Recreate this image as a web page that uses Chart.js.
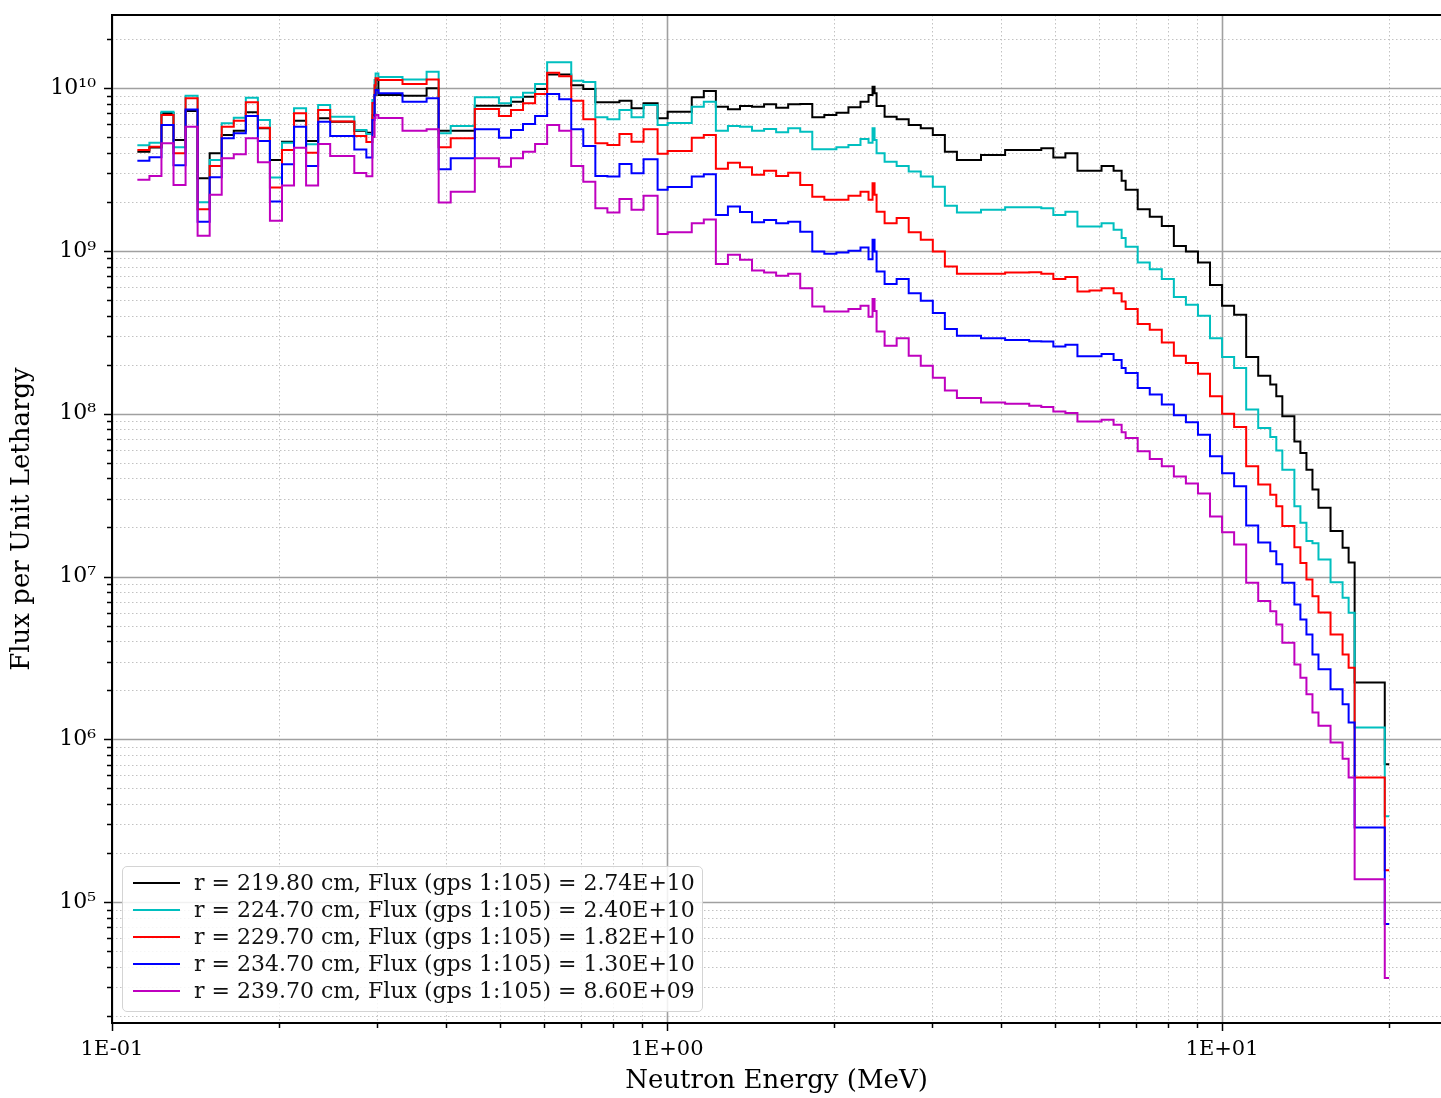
<!DOCTYPE html>
<html>
<head>
<meta charset="utf-8">
<script src="https://cdn.jsdelivr.net/npm/chart.js@4.4.1/dist/chart.umd.min.js"></script>
<style>
html,body{margin:0;padding:0;background:#fff;}
#wrap{position:relative;width:1441px;height:1098px;}
#legend{position:absolute;left:122px;top:866px;width:581px;height:146px;box-sizing:border-box;
  border:1.5px solid #d4d4d4;border-radius:5px;background:rgba(255,255,255,0.85);padding-top:2px;
  font-family:"DejaVu Serif",serif;font-size:22px;color:#111;}
.item{height:27px;display:flex;align-items:center;white-space:nowrap;}
.sw{width:47px;height:0;border-top:2px solid;margin-left:10px;margin-right:14px;}
</style>
</head>
<body>
<div id="wrap"><canvas id="c" width="1441" height="1098"></canvas><div id="legend"></div></div>
<script>
const FONT = '"DejaVu Serif", serif';

// group edges in MeV (groups 105..1, plus the 19.64-20 MeV tail)
const edges = [0.11109,0.11679,0.12277,0.12907,0.13569,0.14264,0.14996,0.15764,0.16573,0.17422,
  0.18316,0.19255,0.20242,0.21280,0.22371,0.23518,0.24724,0.27324,0.28725,0.29452,
  0.29721,0.29849,0.30197,0.33373,0.36883,0.38774,0.40762,0.45049,0.47359,0.49787,
  0.52340,0.55023,0.57844,0.60810,0.63928,0.67206,0.70651,0.74274,0.78082,0.82085,
  0.86294,0.90718,0.96164,1.0026,1.1080,1.1648,1.2246,1.2874,1.3534,1.4227,
  1.4957,1.5724,1.6530,1.7377,1.8268,1.9205,2.0190,2.1225,2.2313,2.3069,
  2.3457,2.3653,2.3852,2.4660,2.5924,2.7253,2.8651,3.0119,3.1664,3.3287,
  3.6788,4.0657,4.4933,4.7237,4.9659,5.2205,5.4881,5.7695,6.0653,6.3763,
  6.5924,6.7032,7.0469,7.4082,7.7880,8.1873,8.6071,9.0484,9.5123,10.000,
  10.513,11.052,11.618,12.214,12.523,12.840,13.499,13.840,14.191,14.550,
  14.918,15.683,16.487,16.905,17.332,19.640,20.000];

// flux per unit lethargy, one value per bin
const fluxR219 = [4.06e9,4.32e9,7.03e9,4.80e9,7.23e9,2.79e9,3.98e9,5.15e9,5.47e9,7.09e9,
  5.66e9,3.62e9,4.68e9,6.30e9,4.73e9,6.52e9,6.21e9,5.47e9,5.32e9,6.83e9,
  9.06e9,1.12e10,9.06e9,8.97e9,9.96e9,5.47e9,5.47e9,7.79e9,7.79e9,7.79e9,
  8.24e9,8.84e9,9.86e9,1.21e10,1.21e10,1.04e10,9.86e9,8.17e9,8.17e9,8.36e9,
  7.51e9,8.06e9,6.52e9,7.15e9,8.77e9,9.59e9,7.68e9,7.40e9,7.76e9,7.68e9,
  7.94e9,7.57e9,7.94e9,7.98e9,6.61e9,6.83e9,7.05e9,7.61e9,8.24e9,9.06e9,
  1.02e10,9.28e9,7.76e9,6.67e9,6.43e9,5.93e9,5.66e9,5.15e9,4.06e9,3.62e9,
  3.88e9,4.17e9,4.17e9,4.27e9,3.74e9,3.98e9,3.11e9,3.11e9,3.32e9,3.11e9,
  2.70e9,2.37e9,1.80e9,1.62e9,1.42e9,1.07e9,9.90e8,8.48e8,6.18e8,4.60e8,
  4.05e8,2.23e8,1.71e8,1.51e8,1.28e8,9.63e7,6.76e7,5.74e7,4.53e7,3.42e7,
  2.64e7,1.90e7,1.50e7,1.22e7,2.23e6,7.03e5];
const fluxR224 = [4.45e9,4.62e9,7.15e9,4.33e9,8.97e9,1.99e9,3.62e9,6.07e9,6.58e9,8.72e9,
  6.36e9,2.82e9,4.62e9,7.51e9,4.52e9,7.87e9,6.67e9,5.53e9,5.22e9,8.44e9,
  1.12e10,1.23e10,1.17e10,1.13e10,1.26e10,5.27e9,5.85e9,8.77e9,8.77e9,8.06e9,
  8.77e9,9.36e9,1.06e10,1.44e10,1.44e10,1.11e10,1.09e10,6.61e9,6.43e9,7.33e9,
  6.61e9,7.87e9,5.93e9,6.10e9,7.68e9,8.24e9,5.47e9,5.85e9,5.79e9,5.47e9,
  5.60e9,5.35e9,5.66e9,5.39e9,4.21e9,4.21e9,4.33e9,4.47e9,4.87e9,4.62e9,
  5.66e9,4.80e9,3.98e9,3.53e9,3.32e9,3.07e9,2.86e9,2.48e9,1.89e9,1.72e9,
  1.79e9,1.85e9,1.85e9,1.83e9,1.66e9,1.74e9,1.41e9,1.41e9,1.48e9,1.35e9,
  1.20e9,1.06e9,8.48e8,7.72e8,6.71e8,5.20e8,4.66e8,3.99e8,2.91e8,2.23e8,
  1.91e8,1.06e8,8.17e7,7.19e7,5.95e7,4.53e7,2.70e7,2.14e7,1.65e7,1.60e7,
  1.27e7,9.23e6,7.40e6,5.99e6,1.18e6,3.37e5];
const fluxR229 = [4.17e9,4.36e9,6.83e9,3.98e9,8.65e9,1.80e9,3.32e9,5.79e9,6.30e9,8.17e9,
  5.71e9,2.45e9,4.17e9,7.00e9,4.01e9,7.33e9,6.23e9,5.08e9,4.66e9,8.09e9,
  1.04e10,1.15e10,1.12e10,1.06e10,1.13e10,4.33e9,4.91e9,7.43e9,7.43e9,6.73e9,
  7.33e9,8.06e9,9.19e9,1.24e10,1.18e10,8.36e9,6.43e9,4.58e9,4.47e9,5.22e9,
  4.68e9,5.58e9,3.95e9,4.11e9,4.96e9,5.15e9,3.19e9,3.48e9,3.26e9,2.93e9,
  3.10e9,2.88e9,3.02e9,2.54e9,2.15e9,2.06e9,2.06e9,2.18e9,2.31e9,2.06e9,
  2.60e9,2.21e9,1.74e9,1.48e9,1.59e9,1.30e9,1.17e9,9.90e8,8.01e8,7.23e8,
  7.23e8,7.36e8,7.39e8,7.23e8,6.71e8,6.90e8,5.63e8,5.71e8,5.90e8,5.50e8,
  4.89e8,4.39e8,3.56e8,3.28e8,2.74e8,2.27e8,2.05e8,1.76e8,1.28e8,1.00e8,
  8.29e7,4.75e7,3.67e7,3.18e7,2.70e7,2.04e7,1.51e7,1.21e7,9.59e6,7.57e6,
  6.01e6,4.41e6,3.32e6,2.75e6,5.82e5,1.57e5];
const fluxR234 = [3.58e9,3.76e9,5.93e9,3.36e9,7.38e9,1.51e9,2.83e9,4.91e9,5.27e9,6.73e9,
  4.73e9,2.01e9,3.40e9,5.79e9,3.32e9,6.21e9,5.08e9,4.20e9,3.75e9,6.36e9,
  9.06e9,9.72e9,9.28e9,8.24e9,8.65e9,3.17e9,3.70e9,5.58e9,5.58e9,4.96e9,
  5.53e9,6.01e9,6.73e9,9.19e9,8.53e9,5.58e9,4.41e9,2.88e9,2.86e9,3.42e9,
  3.00e9,3.65e9,2.37e9,2.47e9,2.86e9,2.96e9,1.66e9,1.87e9,1.73e9,1.50e9,
  1.55e9,1.48e9,1.51e9,1.31e9,9.90e8,9.59e8,9.76e8,1.00e9,1.05e9,8.89e8,
  1.17e9,9.90e8,7.46e8,6.27e8,6.71e8,5.50e8,4.94e8,4.16e8,3.31e8,3.01e8,
  2.91e8,2.84e8,2.79e8,2.78e8,2.59e8,2.65e8,2.25e8,2.25e8,2.33e8,2.14e8,
  1.91e8,1.78e8,1.44e8,1.31e8,1.14e8,9.79e7,8.85e7,7.43e7,5.47e7,4.30e7,
  3.58e7,2.06e7,1.62e7,1.43e7,1.19e7,9.15e6,6.73e6,5.45e6,4.41e6,3.32e6,
  2.69e6,2.03e6,1.64e6,1.27e6,2.87e5,7.33e4];
const fluxR239 = [2.73e9,2.88e9,4.58e9,2.54e9,5.79e9,1.24e9,2.21e9,3.70e9,3.92e9,4.91e9,
  3.50e9,1.53e9,2.52e9,4.30e9,2.52e9,4.53e9,3.83e9,3.01e9,2.87e9,5.00e9,
  6.55e9,6.83e9,6.55e9,5.47e9,5.58e9,1.98e9,2.31e9,3.70e9,3.70e9,3.29e9,
  3.70e9,4.06e9,4.53e9,5.93e9,5.47e9,3.32e9,2.66e9,1.83e9,1.72e9,2.08e9,
  1.79e9,2.18e9,1.27e9,1.30e9,1.48e9,1.56e9,8.32e8,9.45e8,8.81e8,7.57e8,
  7.36e8,7.03e8,7.23e8,5.90e8,4.55e8,4.24e8,4.24e8,4.39e8,4.60e8,3.94e8,
  5.06e8,4.28e8,3.20e8,2.61e8,2.91e8,2.27e8,1.97e8,1.66e8,1.39e8,1.25e8,
  1.17e8,1.15e8,1.12e8,1.10e8,1.03e8,1.01e8,8.97e7,8.97e7,9.19e7,8.56e7,
  7.68e7,7.10e7,5.87e7,5.27e7,4.75e7,4.12e7,3.72e7,3.23e7,2.34e7,1.87e7,
  1.57e7,9.15e6,7.06e6,6.12e6,5.08e6,3.92e6,2.88e6,2.39e6,1.89e6,1.46e6,
  1.21e6,9.55e5,7.61e5,5.82e5,1.38e5,3.42e4];

const series = [fluxR219, fluxR224, fluxR229, fluxR234, fluxR239];
const labels = ["r = 219.80 cm, Flux (gps 1:105) = 2.74E+10",
  "r = 224.70 cm, Flux (gps 1:105) = 2.40E+10",
  "r = 229.70 cm, Flux (gps 1:105) = 1.82E+10",
  "r = 234.70 cm, Flux (gps 1:105) = 1.30E+10",
  "r = 239.70 cm, Flux (gps 1:105) = 8.60E+09"];
const colors = ["#000000", "#00bfbf", "#ff0000", "#0000ff", "#bf00bf"];
const xRange = [0.1, 24.8];
const yRange = [1.81e4, 2.81e10];

const SUP = "⁰¹²³⁴⁵⁶⁷⁸⁹";
const isDecade = v => Math.abs(Math.log10(v) - Math.round(Math.log10(v))) < 1e-9;
const xLabel = v => { if(!isDecade(v)) return ""; const n=Math.round(Math.log10(v)); return "1E"+(n<0?"-":"+")+String(Math.abs(n)).padStart(2,"0"); };
const yLabel = v => isDecade(v) ? "10"+String(Math.round(Math.log10(v))).split("").map(d=>SUP[+d]).join("") : "";

function logTicks(lo, hi){
  const t=[];
  for(let e=Math.floor(Math.log10(lo)); e<=Math.ceil(Math.log10(hi)); e++)
    for(let m=1;m<10;m++){ const v=m*Math.pow(10,e); if(v>=lo && v<=hi) t.push({value:v, major:m===1}); }
  return t;
}
// histogram outline: value i holds from edge i to edge i+1
const steps = v => edges.map((e,i)=>({x:e, y:v[Math.min(i, v.length-1)]}));

// grid, spines and tick marks in matplotlib style
const frame = {
  id: "frame",
  beforeDatasetsDraw(chart){
    const {ctx, chartArea:a, scales:{x, y}} = chart;
    ctx.save();
    const grid = (major) => {
      ctx.setLineDash(major ? [] : [1.5, 2.5]);
      ctx.strokeStyle = major ? "#a0a0a0" : "#c2c2c2";
      ctx.lineWidth = major ? 1.6 : 1;
    };
    x.ticks.forEach(t=>{ const p=Math.round(x.getPixelForValue(t.value))+0.5; grid(t.major);
      ctx.beginPath(); ctx.moveTo(p,a.top); ctx.lineTo(p,a.bottom); ctx.stroke(); });
    y.ticks.forEach(t=>{ const p=Math.round(y.getPixelForValue(t.value))+0.5; grid(t.major);
      ctx.beginPath(); ctx.moveTo(a.left,p); ctx.lineTo(a.right,p); ctx.stroke(); });
    ctx.restore();
  },
  afterDatasetsDraw(chart){
    const {ctx, chartArea:a, scales:{x, y}} = chart;
    ctx.save();
    ctx.strokeStyle = "#000"; ctx.setLineDash([]);
    ctx.lineWidth = 1.5;
    x.ticks.forEach(t=>{ const p=Math.round(x.getPixelForValue(t.value))+0.5;
      ctx.beginPath(); ctx.moveTo(p,a.bottom); ctx.lineTo(p,a.bottom+(t.major?8:5)); ctx.stroke(); });
    y.ticks.forEach(t=>{ const p=Math.round(y.getPixelForValue(t.value))+0.5;
      ctx.beginPath(); ctx.moveTo(a.left,p); ctx.lineTo(a.left-(t.major?8:5),p); ctx.stroke(); });
    ctx.lineWidth = 2;
    ctx.beginPath();
    ctx.moveTo(a.right,a.top); ctx.lineTo(a.left,a.top); ctx.lineTo(a.left,a.bottom); ctx.lineTo(a.right,a.bottom);
    ctx.stroke();
    ctx.restore();
  }
};

const axisFont = {family: FONT, size: 21};
new Chart(document.getElementById("c"), {
  type: "line",
  data: {datasets: series.map((s,i)=>({label: labels[i], data: steps(s), borderColor: colors[i], borderWidth: 2,
    pointRadius: 0, stepped: "before", fill: false, order: series.length - i}))},
  options: {
    responsive: false, animation: false, devicePixelRatio: 1,
    layout: {padding: {top: 15, right: 0, bottom: 0, left: 0}},
    plugins: {legend: {display: false}, tooltip: {enabled: false}},
    scales: {
      x: {type: "logarithmic", min: xRange[0], max: xRange[1],
        grid: {display: false, drawTicks: false}, border: {display: false},
        afterBuildTicks: s => { s.ticks = logTicks(s.min, s.max); },
        afterFit: s => { s.height = 75; s.paddingRight = 0; },
        ticks: {autoSkip: false, maxRotation: 0, minRotation: 0, padding: 14, color: "#000", font: axisFont, callback: xLabel},
        title: {display: true, text: "Neutron Energy (MeV)", color: "#000", font: {family: FONT, size: 26}, padding: {top: 0, bottom: 1}}},
      y: {type: "logarithmic", min: yRange[0], max: yRange[1],
        grid: {display: false, drawTicks: false}, border: {display: false},
        afterBuildTicks: s => { s.ticks = logTicks(s.min, s.max); },
        afterFit: s => { s.width = 112; s.paddingTop = 0; s.paddingBottom = 0; },
        ticks: {autoSkip: false, padding: 16, color: "#000", font: {family: FONT, size: 22}, callback: yLabel},
        title: {display: true, text: "Flux per Unit Lethargy", color: "#000", font: {family: FONT, size: 26}, padding: {top: 7, bottom: 0}}}
    }
  },
  plugins: [frame]
});

// legend box, lower left inside the axes
const lg = document.getElementById("legend");
labels.forEach((t,i)=>{
  const row = document.createElement("div"); row.className = "item";
  row.innerHTML = `<span class="sw" style="border-color:${colors[i]}"></span><span>${t}</span>`;
  lg.appendChild(row);
});
</script>
</body>
</html>
